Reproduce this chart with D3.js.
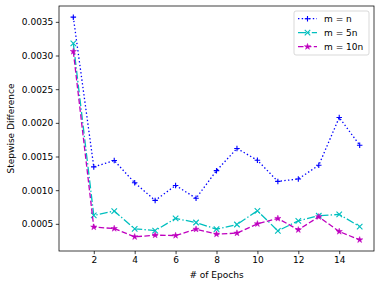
<!DOCTYPE html>
<html>
<head>
<meta charset="utf-8">
<script src="https://cdn.jsdelivr.net/npm/d3@7"></script>
<style>
  body { margin: 0; background: #fff; }
  text { font-family: "DejaVu Sans", sans-serif; fill: #000; }
</style>
</head>
<body>
<div id="chart"></div>
<script>
// Data
const epochs = [1, 2, 3, 4, 5, 6, 7, 8, 9, 10, 11, 12, 13, 14, 15];
const mN = [0.00357, 0.001346, 0.00144, 0.00111, 0.000848, 0.00107, 0.00088, 0.00129, 0.00162, 0.001444, 0.00113, 0.001167, 0.00137, 0.00208, 0.001668];
const m5N = [0.00318, 0.000625, 0.00069, 0.000426, 0.0004, 0.00058, 0.00052, 0.00042, 0.00049, 0.000694, 0.000396, 0.000545, 0.00062, 0.00064, 0.00046];
const m10N = [0.00306, 0.000452, 0.00043, 0.000307, 0.000332, 0.000326, 0.00042, 0.000347, 0.000362, 0.0005, 0.00058, 0.000411, 0.000605, 0.000386, 0.000262];
const seriesNames = ["m = n", "m = 5n", "m = 10n"];
const xTicks = [2, 4, 6, 8, 10, 12, 14];
const yTicks = [0.0005, 0.0010, 0.0015, 0.0020, 0.0025, 0.0030, 0.0035];

const series = [
  { name: seriesNames[0], values: mN, color: "#0000ff", dash: "1.4,2.3", marker: "plus" },
  { name: seriesNames[1], values: m5N, color: "#00bfbf", dash: "8,2.2,1.4,2.2", marker: "x" },
  { name: seriesNames[2], values: m10N, color: "#bf00bf", dash: "5.5,2.4", marker: "star" }
];

const svgWidth = 381;
const svgHeight = 287;
const margin = { top: 6, right: 7, bottom: 36, left: 59 };
const chartWidth = svgWidth - margin.left - margin.right;
const chartHeight = svgHeight - margin.top - margin.bottom;

const svg = d3.select("#chart")
  .append("svg")
  .attr("width", svgWidth)
  .attr("height", svgHeight);

const chart = svg.append("g")
  .attr("transform", `translate(${margin.left}, ${margin.top})`);

// Scales with matplotlib-style 5% padding
const allVals = mN.concat(m5N, m10N);
const yMin = d3.min(allVals), yMax = d3.max(allVals);
const yPad = (yMax - yMin) * 0.05;
const xPad = (d3.max(epochs) - d3.min(epochs)) * 0.05;

const xScale = d3.scaleLinear()
  .domain([d3.min(epochs) - xPad, d3.max(epochs) + xPad])
  .range([0, chartWidth]);

const yScale = d3.scaleLinear()
  .domain([yMin - yPad, yMax + yPad])
  .range([chartHeight, 0]);

// Axes
const xAxis = d3.axisBottom(xScale)
  .tickValues(xTicks)
  .tickSize(3.2)
  .tickPadding(2.5)
  .tickFormat(d3.format("d"));

const yAxis = d3.axisLeft(yScale)
  .tickValues(yTicks)
  .tickSize(3.2)
  .tickPadding(2.5)
  .tickFormat(d3.format(".4f"));

const gx = chart.append("g")
  .attr("transform", `translate(0, ${chartHeight})`)
  .call(xAxis);
const gy = chart.append("g")
  .call(yAxis);

[gx, gy].forEach(g => {
  g.select(".domain").remove();
  g.selectAll("line").attr("stroke", "#000").attr("stroke-width", 0.75);
  g.selectAll("text").attr("font-size", 9).attr("font-family", "DejaVu Sans").attr("fill", "#000");
});

// Frame
chart.append("rect")
  .attr("width", chartWidth)
  .attr("height", chartHeight)
  .attr("fill", "none")
  .attr("stroke", "#000")
  .attr("stroke-width", 0.75);

// Markers
function markerPath(type, s) {
  const h = s / 2;
  if (type === "plus") return `M${-h},0L${h},0M0,${-h}L0,${h}`;
  if (type === "x") return `M${-h},${-h}L${h},${h}M${-h},${h}L${h},${-h}`;
  return d3.symbol().type(d3.symbolStar).size(s * s * 0.4)();
}

function drawMarker(g, type, color) {
  if (type === "star") {
    g.append("path").attr("d", markerPath(type, 5.5)).attr("fill", color).attr("stroke", color).attr("stroke-width", 0.5);
  } else {
    g.append("path").attr("d", markerPath(type, 5.5)).attr("fill", "none").attr("stroke", color).attr("stroke-width", 1.1);
  }
}

const line = d3.line()
  .x(d => xScale(d[0]))
  .y(d => yScale(d[1]));

const plot = chart.append("g");
series.forEach(s => {
  const pts = epochs.map((e, i) => [e, s.values[i]]);
  plot.append("path")
    .datum(pts)
    .attr("fill", "none")
    .attr("stroke", s.color)
    .attr("stroke-width", 1.3)
    .attr("stroke-dasharray", s.dash)
    .attr("d", line);
  pts.forEach(p => {
    const g = plot.append("g").attr("transform", `translate(${xScale(p[0])}, ${yScale(p[1])})`);
    drawMarker(g, s.marker, s.color);
  });
});

// Legend
const legend = chart.append("g")
  .attr("transform", `translate(${chartWidth - 80}, 5)`);
legend.append("rect")
  .attr("width", 75)
  .attr("height", 44)
  .attr("rx", 2)
  .attr("fill", "#fff")
  .attr("fill-opacity", 0.8)
  .attr("stroke", "#ccc")
  .attr("stroke-width", 0.75);
series.forEach((s, i) => {
  const y = 7.7 + i * 14;
  legend.append("line")
    .attr("x1", 4).attr("x2", 23)
    .attr("y1", y).attr("y2", y)
    .attr("stroke", s.color)
    .attr("stroke-width", 1.3)
    .attr("stroke-dasharray", s.dash);
  drawMarker(legend.append("g").attr("transform", `translate(13.5, ${y})`), s.marker, s.color);
  legend.append("text")
    .attr("x", 30)
    .attr("y", y + 3.2)
    .attr("font-size", 9)
    .text(s.name);
});

// Axis labels
svg.append("text")
  .attr("x", margin.left + chartWidth / 2)
  .attr("y", 278)
  .attr("text-anchor", "middle")
  .attr("font-size", 9)
  .text("# of Epochs");

svg.append("text")
  .attr("transform", `translate(14, ${margin.top + chartHeight / 2}) rotate(-90)`)
  .attr("text-anchor", "middle")
  .attr("font-size", 9)
  .text("Stepwise Difference");
</script>
</body>
</html>
